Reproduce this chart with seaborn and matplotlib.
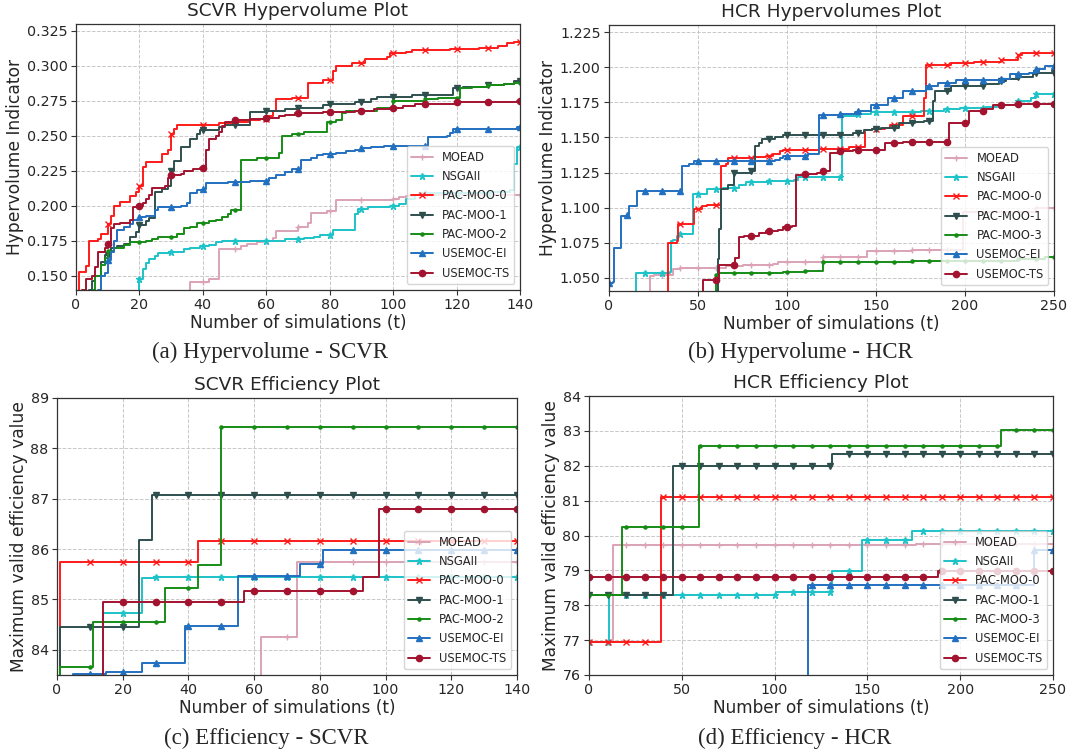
# -*- coding: utf-8 -*-
"""
Hypervolume / efficiency convergence plots for the SCVR and HCR problems.
Each series is stored as a list of (simulation, value) change points and
drawn as a step curve.
"""

import matplotlib
matplotlib.use('Agg')
import matplotlib.pyplot as plt
import numpy as np
import pandas as pd
import seaborn as sns

# ---------------------------------------------------------------------------
# Data: (t, value) change points
# ---------------------------------------------------------------------------
METHODS_A = ['MOEAD', 'NSGAII', 'PAC-MOO-0', 'PAC-MOO-1', 'PAC-MOO-2', 'USEMOC-EI', 'USEMOC-TS']
METHODS_B = ['MOEAD', 'NSGAII', 'PAC-MOO-0', 'PAC-MOO-1', 'PAC-MOO-3', 'USEMOC-EI', 'USEMOC-TS']

# (a) SCVR hypervolume
hv_scvr_moead = [(0, 0.12), (35, 0.138), (36, 0.1455), (42, 0.148), (45, 0.169), (52, 0.171), (54, 0.173),
                 (57, 0.174), (59, 0.175), (62, 0.177), (63, 0.182), (70, 0.185), (73, 0.188), (74, 0.195),
                 (79, 0.196), (82, 0.204), (100, 0.205), (102, 0.206), (104, 0.207), (107, 0.208)]
hv_scvr_nsga = [(0, 0.12), (19, 0.138), (20, 0.148), (21, 0.155), (22, 0.159), (23, 0.162), (25, 0.164),
                (26, 0.166), (30, 0.167), (34, 0.169), (36, 0.170), (39, 0.171), (42, 0.172), (44, 0.174),
                (46, 0.175), (66, 0.176), (72, 0.177), (75, 0.178), (77, 0.179), (81, 0.183), (88, 0.194),
                (89, 0.198), (92, 0.199), (99, 0.200), (102, 0.201), (104, 0.205), (107, 0.208), (108, 0.209),
                (131, 0.210), (137, 0.211), (138, 0.230), (139, 0.242)]
hv_scvr_pac0 = [(0, 0.12), (1, 0.153), (3, 0.157), (4, 0.175), (7, 0.176), (8, 0.180), (10, 0.187), (11, 0.193),
                (12, 0.200), (14, 0.203), (17, 0.207), (19, 0.210), (20, 0.214), (21, 0.228), (22, 0.231),
                (27, 0.237), (29, 0.240), (30, 0.251), (31, 0.255), (32, 0.258), (45, 0.259), (50, 0.260),
                (55, 0.261), (58, 0.262), (61, 0.264), (62, 0.268), (63, 0.276), (68, 0.277), (73, 0.288),
                (78, 0.290), (81, 0.296), (82, 0.300), (87, 0.302), (91, 0.305), (98, 0.306), (99, 0.309),
                (104, 0.310), (106, 0.311), (118, 0.312), (127, 0.313), (133, 0.314), (136, 0.316), (138, 0.317)]
hv_scvr_pac1 = [(0, 0.12), (4, 0.140), (5, 0.146), (6, 0.150), (8, 0.160), (9, 0.165), (11, 0.170), (13, 0.171),
                (15, 0.173), (17, 0.178), (19, 0.181), (20, 0.186), (22, 0.189), (23, 0.191), (25, 0.210),
                (27, 0.212), (29, 0.214), (30, 0.225), (31, 0.232), (33, 0.242), (36, 0.248), (38, 0.251),
                (39, 0.254), (45, 0.256), (47, 0.258), (55, 0.267), (60, 0.268), (66, 0.269), (70, 0.270),
                (78, 0.272), (80, 0.273), (88, 0.274), (93, 0.276), (95, 0.278), (106, 0.279), (119, 0.284),
                (122, 0.285), (130, 0.286), (135, 0.287), (138, 0.289)]
hv_scvr_pac2 = [(0, 0.12), (5, 0.140), (6, 0.150), (8, 0.158), (9, 0.163), (10, 0.168), (12, 0.170), (15, 0.172),
                (17, 0.174), (22, 0.175), (24, 0.176), (26, 0.178), (32, 0.180), (34, 0.184), (36, 0.185),
                (38, 0.188), (42, 0.189), (44, 0.190), (46, 0.192), (48, 0.194), (49, 0.197), (52, 0.233),
                (57, 0.234), (64, 0.238), (65, 0.250), (68, 0.251), (72, 0.253), (79, 0.260), (82, 0.261),
                (84, 0.266), (85, 0.268), (95, 0.270), (100, 0.275), (110, 0.276), (114, 0.277), (121, 0.284),
                (125, 0.285), (130, 0.286), (135, 0.287), (138, 0.288)]
hv_scvr_ei = [(0, 0.12), (7, 0.140), (8, 0.150), (9, 0.152), (10, 0.161), (11, 0.167), (12, 0.175), (13, 0.183),
              (15, 0.185), (17, 0.187), (18, 0.190), (20, 0.192), (22, 0.193), (25, 0.197), (26, 0.199),
              (33, 0.200), (35, 0.202), (36, 0.209), (38, 0.211), (40, 0.212), (41, 0.216), (48, 0.217),
              (55, 0.218), (61, 0.220), (63, 0.222), (66, 0.224), (68, 0.226), (71, 0.233), (74, 0.234),
              (76, 0.236), (78, 0.237), (82, 0.238), (85, 0.239), (88, 0.240), (90, 0.241), (93, 0.242),
              (97, 0.243), (111, 0.249), (117, 0.250), (118, 0.252), (119, 0.255), (139, 0.256)]
hv_scvr_ts = [(0, 0.12), (2, 0.140), (3, 0.148), (5, 0.150), (6, 0.156), (7, 0.167), (9, 0.170), (10, 0.173),
              (11, 0.184), (12, 0.187), (14, 0.188), (17, 0.190), (18, 0.199), (20, 0.200), (21, 0.202),
              (22, 0.205), (23, 0.208), (24, 0.213), (28, 0.214), (29, 0.220), (30, 0.222), (33, 0.223),
              (34, 0.225), (37, 0.226), (39, 0.227), (41, 0.240), (42, 0.248), (44, 0.250), (45, 0.253),
              (46, 0.257), (47, 0.260), (50, 0.261), (55, 0.262), (60, 0.263), (64, 0.264), (66, 0.265),
              (69, 0.266), (78, 0.267), (88, 0.268), (94, 0.269), (99, 0.270), (103, 0.271), (107, 0.273),
              (120, 0.274), (139, 0.2745)]

# (b) HCR hypervolume
hv_hcr_moead = [(0, 1.00), (22, 1.03), (23, 1.051), (25, 1.052), (36, 1.056), (40, 1.057), (66, 1.058),
                (75, 1.059), (92, 1.060), (95, 1.061), (120, 1.065), (145, 1.069), (170, 1.070), (199, 1.097),
                (240, 1.100)]
hv_hcr_nsga = [(0, 1.00), (15, 1.053), (34, 1.054), (35, 1.076), (36, 1.077), (38, 1.080), (40, 1.081),
               (47, 1.110), (55, 1.113), (64, 1.114), (73, 1.116), (77, 1.118), (90, 1.119), (104, 1.120),
               (106, 1.122), (131, 1.165), (140, 1.167), (147, 1.168), (175, 1.169), (188, 1.170), (197, 1.171),
               (212, 1.172), (218, 1.173), (228, 1.174), (230, 1.176), (237, 1.178), (240, 1.181)]
hv_hcr_pac0 = [(0, 1.00), (32, 1.03), (33, 1.075), (38, 1.076), (39, 1.088), (48, 1.099), (52, 1.101),
               (55, 1.102), (63, 1.130), (66, 1.131), (67, 1.135), (82, 1.136), (88, 1.137), (92, 1.138),
               (96, 1.140), (98, 1.141), (118, 1.142), (135, 1.143), (144, 1.155), (148, 1.156), (155, 1.157),
               (158, 1.159), (165, 1.165), (177, 1.178), (178, 1.202), (192, 1.203), (205, 1.204), (220, 1.205),
               (230, 1.209), (232, 1.210)]
hv_hcr_pac1 = [(0, 1.00), (60, 1.03), (61, 1.063), (62, 1.085), (63, 1.113), (67, 1.116), (70, 1.125),
               (80, 1.126), (82, 1.144), (84, 1.146), (86, 1.149), (93, 1.150), (98, 1.152), (137, 1.153),
               (143, 1.155), (148, 1.156), (153, 1.157), (163, 1.160), (172, 1.161), (177, 1.162), (182, 1.176),
               (183, 1.183), (192, 1.187), (211, 1.188), (219, 1.190), (223, 1.192), (230, 1.193), (238, 1.195),
               (240, 1.196)]
hv_hcr_pac3 = [(0, 1.00), (60, 1.052), (62, 1.053), (98, 1.054), (110, 1.055), (120, 1.061), (170, 1.062),
               (230, 1.063), (245, 1.065)]
hv_hcr_ei = [(0, 1.046), (2, 1.047), (3, 1.071), (7, 1.094), (10, 1.095), (11, 1.101), (16, 1.112), (41, 1.130),
             (45, 1.131), (48, 1.133), (93, 1.134), (96, 1.135), (98, 1.137), (112, 1.138), (118, 1.166),
             (130, 1.167), (138, 1.168), (140, 1.169), (147, 1.173), (157, 1.178), (165, 1.183), (178, 1.187),
             (185, 1.189), (195, 1.191), (220, 1.192), (225, 1.195), (236, 1.196), (240, 1.199), (245, 1.201)]
hv_hcr_ts = [(0, 1.00), (50, 1.03), (53, 1.048), (62, 1.059), (71, 1.064), (73, 1.079), (76, 1.080),
             (84, 1.082), (88, 1.083), (95, 1.084), (98, 1.086), (103, 1.087), (105, 1.123), (110, 1.124),
             (117, 1.125), (120, 1.126), (124, 1.139), (130, 1.140), (137, 1.141), (155, 1.146), (165, 1.147),
             (191, 1.160), (202, 1.169), (212, 1.170), (216, 1.173), (230, 1.174)]

# (c) SCVR efficiency
eff_scvr_moead = [(0, 80.0), (62, 84.26), (73, 85.75)]
eff_scvr_nsga = [(0, 80.0), (14, 84.73), (26, 85.43), (30, 85.45)]
eff_scvr_pac0 = [(0, 83.0), (1, 85.74), (43, 86.17)]
eff_scvr_pac1 = [(0, 83.0), (1, 84.45), (25, 86.19), (29, 87.08)]
eff_scvr_pac2 = [(0, 83.0), (1, 83.66), (11, 84.55), (33, 85.23), (43, 85.69), (50, 88.42)]
eff_scvr_ei = [(0, 83.3), (5, 83.52), (15, 83.56), (26, 83.73), (39, 84.47), (55, 85.46), (74, 85.71), (81, 85.98)]
eff_scvr_ts = [(0, 80.0), (14, 84.94), (57, 85.17), (93, 85.45), (98, 86.79)]

# (d) HCR efficiency
eff_hcr_moead = [(0, 76.96), (13, 79.74), (176, 79.76)]
eff_hcr_nsga = [(0, 76.96), (11, 78.28), (101, 78.38), (131, 78.99), (147, 79.87), (174, 80.13)]
eff_hcr_pac0 = [(0, 76.96), (39, 81.11)]
eff_hcr_pac1 = [(0, 78.28), (45, 81.98), (131, 82.33)]
eff_hcr_pac3 = [(0, 78.28), (18, 80.23), (59, 82.57), (222, 83.02)]
eff_hcr_ei = [(0, 70.0), (118, 78.58), (240, 79.57)]
eff_hcr_ts = [(0, 78.80), (188, 78.97)]

# ---------------------------------------------------------------------------
# Styling
# ---------------------------------------------------------------------------
COLORS = ['#dba3b6', '#1cc3c8', '#ff1a1a', '#2f4f4f', '#168c16', '#2270c0', '#a3132f']
MARKERS = ['+', '*', 'x', 'v', '.', '^', 'o']

sns.set_style('whitegrid', {'grid.linestyle': '--', 'grid.color': '#c8c8c8',
                            'axes.edgecolor': '#333333', 'xtick.bottom': True, 'ytick.left': True})
plt.rcParams['font.family'] = ['DejaVu Sans']
plt.rcParams['xtick.major.size'] = 3.5
plt.rcParams['ytick.major.size'] = 3.5


def expand_steps(points, t_max):
    """Hold each change point value until the next one (one value per simulation)."""
    ts = np.arange(0, t_max + 1)
    xs = np.array([p[0] for p in points])
    vs = np.array([p[1] for p in points])
    idx = np.searchsorted(xs, ts, side='right') - 1
    return pd.DataFrame({'t': ts, 'value': vs[idx]})


def draw_panel(ax, series, names, t_max, ylim, yticks, xticks, yfmt, title, ylabel):
    for points, name, color, marker in zip(series, names, COLORS, MARKERS):
        df = expand_steps(points, t_max)
        sns.lineplot(data=df, x='t', y='value', ax=ax, color=color, label=name,
                     drawstyle='steps-post', marker=marker, markevery=10, markersize=4.5,
                     markeredgecolor=color, markeredgewidth=1.0, linewidth=1.4)
    ax.set_xlim(0, t_max)
    ax.set_ylim(*ylim)
    ax.set_xticks(xticks)
    ax.set_yticks(yticks)
    ax.set_yticklabels([yfmt.format(v) for v in yticks])
    ax.tick_params(labelsize=10.3, length=3.5, color='#333333', pad=2.5)
    ax.set_title(title, fontsize=13.3)
    ax.set_xlabel('Number of simulations (t)', fontsize=12.2, labelpad=1)
    ax.set_ylabel(ylabel, fontsize=12.3, labelpad=2)
    ax.grid(True, linestyle='--', color='#c8c8c8', linewidth=0.7)
    for spine in ax.spines.values():
        spine.set_linewidth(0.9)
    ax.legend(loc='lower right', fontsize=8.3, framealpha=0.8, labelspacing=0.55,
              borderpad=0.4, handlelength=1.9)


fig = plt.figure(figsize=(10.69, 7.52), dpi=100)
W, H = 1069.0, 752.0


def add_axes(left, top, right, bottom):
    return fig.add_axes([left / W, 1 - bottom / H, (right - left) / W, (bottom - top) / H])


ax_a = add_axes(76, 24, 520, 290)
ax_b = add_axes(609, 25, 1054, 291)
ax_c = add_axes(57, 398, 517, 675)
ax_d = add_axes(589, 396, 1053, 675)

draw_panel(ax_a, [hv_scvr_moead, hv_scvr_nsga, hv_scvr_pac0, hv_scvr_pac1, hv_scvr_pac2, hv_scvr_ei, hv_scvr_ts],
           METHODS_A, 140, (0.1398, 0.3298), np.arange(0.150, 0.326, 0.025), np.arange(0, 141, 20), '{:.3f}',
           'SCVR Hypervolume Plot', 'Hypervolume Indicator')
draw_panel(ax_b, [hv_hcr_moead, hv_hcr_nsga, hv_hcr_pac0, hv_hcr_pac1, hv_hcr_pac3, hv_hcr_ei, hv_hcr_ts],
           METHODS_B, 250, (1.0405, 1.2302), np.arange(1.050, 1.226, 0.025), np.arange(0, 251, 50), '{:.3f}',
           'HCR Hypervolumes Plot', 'Hypervolume Indicator')
draw_panel(ax_c, [eff_scvr_moead, eff_scvr_nsga, eff_scvr_pac0, eff_scvr_pac1, eff_scvr_pac2, eff_scvr_ei,
                  eff_scvr_ts],
           METHODS_A, 140, (83.5, 89.0), np.arange(84, 90, 1), np.arange(0, 141, 20), '{:.0f}',
           'SCVR Efficiency Plot', 'Maximum valid efficiency value')
draw_panel(ax_d, [eff_hcr_moead, eff_hcr_nsga, eff_hcr_pac0, eff_hcr_pac1, eff_hcr_pac3, eff_hcr_ei, eff_hcr_ts],
           METHODS_B, 250, (76.0, 84.0), np.arange(76, 85, 1), np.arange(0, 251, 50), '{:.0f}',
           'HCR Efficiency Plot', 'Maximum valid efficiency value')

# Sub-figure captions
captions = ['(a) Hypervolume - SCVR', '(b) Hypervolume - HCR', '(c) Efficiency - SCVR', '(d) Efficiency - HCR']
cap_pos = [(270, 352), (800, 352), (266, 738), (795, 738)]
for text, (cx, cy) in zip(captions, cap_pos):
    fig.text(cx / W, 1 - cy / H, text, ha='center', va='center', fontsize=16.5,
             family=['Liberation Serif', 'DejaVu Serif'])

fig.savefig('out.png', dpi=100)
plt.close(fig)
